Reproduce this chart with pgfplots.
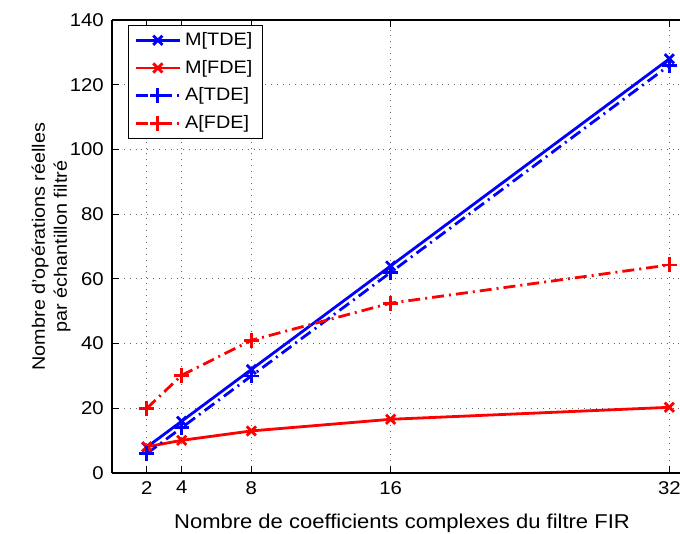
\documentclass[border=0pt]{standalone}
\usepackage{fontspec}
\setmainfont{Liberation Sans}[FakeStretch=1.1]
\usepackage{pgfplots}
\pgfplotsset{compat=1.18}

\begin{document}
\fontsize{18pt}{22pt}\selectfont
\begin{tikzpicture}
\begin{axis}[
    at={(0pt,0pt)}, anchor=south west,
    scale only axis,
    width=580pt, height=453pt,
    xmin=0, xmax=33.3,
    ymin=0, ymax=140,
    xtick={2,4,8,16,32},
    ytick={0,20,40,60,80,100,120,140},
    axis x line*=box,
    axis y line*=left,
    axis line style={line width=1.3pt},
    tick style={line width=0.8pt, black},
    major tick length=7pt,
    tick align=inside,
    xmajorgrids=true, ymajorgrids=true,
    grid style={black!60, line width=0.9pt, dash pattern=on 0.9pt off 5pt},
    /pgf/number format/assume math mode=true,
    tick label style={font=\fontsize{18.5pt}{21pt}\selectfont},
    xticklabel style={yshift=-2pt},
    yticklabel style={xshift=-2pt},
    xlabel={Nombre de coefficients complexes du filtre FIR},
    xlabel style={at={(axis description cs:0.5,0)}, anchor=base, yshift=-55pt,
        font=\fontsize{20pt}{23pt}\selectfont},
    ylabel={Nombre d'opérations réelles\\par échantillon filtré},
    ylabel style={at={(axis description cs:-0.105,0.5)}, anchor=center, align=center,
        font=\fontsize{18pt}{22pt}\selectfont},
    legend cell align=left,
    legend style={at={(0.0276,0.989)}, anchor=north west,
        draw=black, line width=0.8pt, fill=white,
        font=\fontsize{18pt}{21pt}\selectfont,
        inner xsep=6pt, inner ysep=5pt, row sep=8pt,
        nodes={inner xsep=4pt},
        legend image code/.code={
            \draw[mark repeat=2, mark phase=2]
            plot coordinates {(0pt,0pt) (22pt,0pt) (44pt,0pt)};}},
    every axis plot/.append style={line width=2.8pt, mark size=6.5pt},
]

\addplot[color=blue, solid, mark=x, mark options={solid}]
    coordinates {(2,8)(4,16)(8,32)(16,64)(32,128)};
\addlegendentry{M[TDE]}

\addplot[color=red, solid, mark=x, mark options={solid}]
    coordinates {(2,8.1)(4,10.1)(8,13)(16,16.6)(32,20.3)};
\addlegendentry{M[FDE]}

\addplot[color=blue, dash pattern=on 12pt off 5pt on 2pt off 5pt, mark=+, mark options={solid, mark size=7.5pt}]
    coordinates {(2,6)(4,14)(8,30)(16,62)(32,126)};
\addlegendentry{A[TDE]}

\addplot[color=red, dash pattern=on 12pt off 5pt on 2pt off 5pt, mark=+, mark options={solid, mark size=7.5pt}]
    coordinates {(2,20)(4,30.2)(8,41)(16,52.5)(32,64.3)};
\addlegendentry{A[FDE]}

\end{axis}
\pgfresetboundingbox
\useasboundingbox (-112pt,-60pt) rectangle (568pt,473pt);
\end{tikzpicture}
\end{document}
